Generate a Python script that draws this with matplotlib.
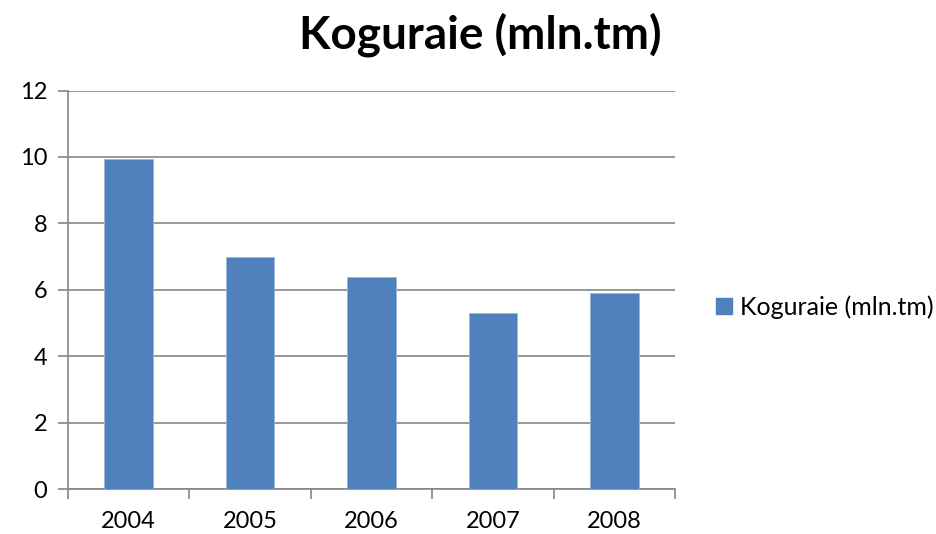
import matplotlib
matplotlib.use("Agg")
import matplotlib.pyplot as plt
from matplotlib.patches import Patch

years = ["2004", "2005", "2006", "2007", "2008"]
values = [9.95, 7.0, 6.38, 5.31, 5.91]
series_name = "Koguraie (mln.tm)"
title = "Koguraie (mln.tm)"

plt.rcParams['font.family'] = ['Lato', 'DejaVu Sans']

fig = plt.figure(figsize=(9.36, 5.34), dpi=100)
ax = fig.add_axes([68/936, 1-489/534, (675-68)/936, (489-90.5)/534])

bar_color = "#4F81BD"
grid_color = "#868686"
x = list(range(len(years)))
ax.bar(x, values, width=0.4, color=bar_color, edgecolor="#9BB7DB", linewidth=0.6, zorder=3)

ax.set_xlim(-0.5, len(years) - 0.5)
ax.set_ylim(0, 12)
ax.set_yticks(range(0, 13, 2))
ax.set_yticklabels([str(v) for v in range(0, 13, 2)], fontsize=17)
ax.yaxis.grid(True, color=grid_color, linewidth=1.2, zorder=0)
ax.set_axisbelow(True)

ax.set_xticks([i - 0.5 for i in range(len(years) + 1)])
ax.set_xticklabels([])
ax.set_xticks(x, minor=True)
ax.set_xticklabels(years, minor=True, fontsize=17)
ax.tick_params(axis='x', which='minor', length=0, pad=16)
ax.tick_params(axis='x', which='major', length=7, width=1.2, color=grid_color, direction='out')
ax.tick_params(axis='y', length=7, width=1.2, color=grid_color, direction='out', pad=8)

for s in ['top', 'right']:
    ax.spines[s].set_visible(False)
for s in ['left', 'bottom']:
    ax.spines[s].set_color(grid_color)
    ax.spines[s].set_linewidth(1.2)

fig.text(480/936, 1-35/534, title, fontsize=33, fontweight='bold', ha='center', va='center')

handle = Patch(facecolor=bar_color, edgecolor=bar_color)
fig.legend([handle], [series_name], loc='center left', bbox_to_anchor=(716/936, 1-307/534),
           frameon=False, fontsize=18, handlelength=0.65, handleheight=0.65, handletextpad=0.3,
           borderpad=0, borderaxespad=0)

fig.savefig("out.png", dpi=100)
